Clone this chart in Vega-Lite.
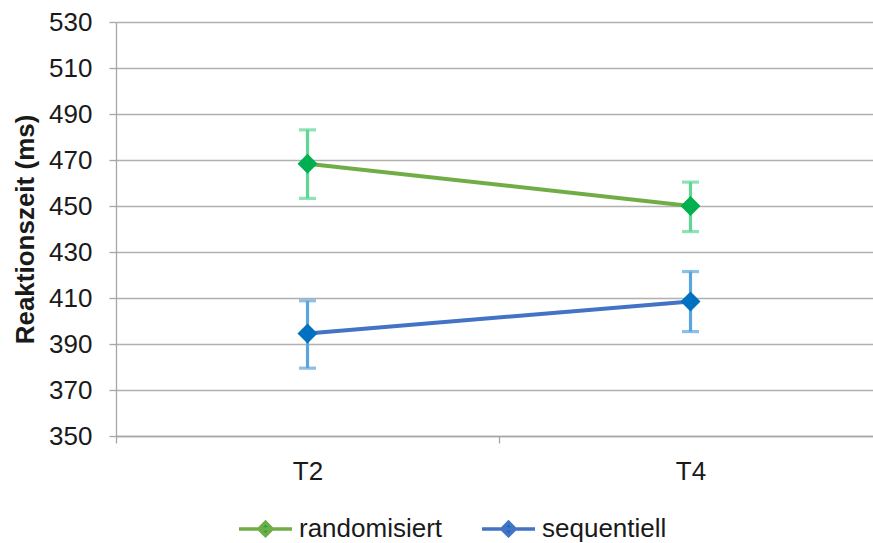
{
  "$schema": "https://vega.github.io/schema/vega-lite/v6.json",
  "autosize": {"type": "none"},
  "padding": {"left": 116, "top": 22, "right": 0, "bottom": 107},
  "width": 766,
  "height": 414,
  "background": "white",
  "config": {
    "view": {"stroke": null},
    "font": "Liberation Sans",
    "axis": {"labelFont": "Liberation Sans", "titleFont": "Liberation Sans", "labelColor": "#1a1a1a", "titleColor": "#1a1a1a"},
    "legend": {"labelFont": "Liberation Sans", "labelColor": "#1a1a1a"}
  },
  "data": {
    "values": [
      {"zeit": "T2", "bedingung": "randomisiert", "mittel": 468.4, "unten": 453.3, "oben": 483.1},
      {"zeit": "T4", "bedingung": "randomisiert", "mittel": 450.0, "unten": 438.9, "oben": 460.4},
      {"zeit": "T2", "bedingung": "sequentiell", "mittel": 394.6, "unten": 379.5, "oben": 408.8},
      {"zeit": "T4", "bedingung": "sequentiell", "mittel": 408.5, "unten": 395.4, "oben": 421.5}
    ]
  },
  "encoding": {
    "x": {
      "field": "zeit",
      "type": "nominal",
      "scale": {"type": "band", "paddingInner": 0, "paddingOuter": 0},
      "axis": {
        "title": null,
        "labelAngle": 0,
        "labelFontSize": 26,
        "labelPadding": 15,
        "tickBand": "extent",
        "tickSize": 7,
        "tickColor": "#A6A6A6",
        "tickWidth": 1.3,
        "domainColor": "#A6A6A6",
        "domainWidth": 1.3,
        "grid": false
      }
    }
  },
  "layer": [
    {
      "mark": {"type": "errorbar", "thickness": 3, "rule": {"strokeWidth": 3.2}, "ticks": {"size": 17, "thickness": 3.2}},
      "encoding": {
        "y": {
          "field": "unten",
          "type": "quantitative",
          "scale": {"domain": [350, 530], "nice": false, "zero": false},
          "axis": {
            "title": "Reaktionszeit (ms)",
            "titleFontSize": 26,
            "titleFontWeight": "bold",
            "titlePadding": 10,
            "values": [350, 370, 390, 410, 430, 450, 470, 490, 510, 530],
            "labelFontSize": 26,
            "labelPadding": 17,
            "tickSize": 7,
            "tickColor": "#A6A6A6",
            "tickWidth": 1.3,
            "domainColor": "#A6A6A6",
            "domainWidth": 1.3,
            "grid": true,
            "gridColor": "#B0B0B0",
            "gridWidth": 1.3
          }
        },
        "y2": {"field": "oben"},
        "color": {
          "field": "bedingung",
          "type": "nominal",
          "scale": {"domain": ["randomisiert", "sequentiell"], "range": ["#5FD596", "#5AA5DE"]},
          "legend": null
        }
      }
    },
    {
      "mark": {"type": "line", "strokeWidth": 4},
      "encoding": {
        "y": {"field": "mittel", "type": "quantitative"},
        "color": {
          "field": "bedingung",
          "type": "nominal",
          "scale": {"domain": ["randomisiert", "sequentiell"], "range": ["#70AD47", "#4472C4"]},
          "legend": {
            "title": null,
            "orient": "none",
            "direction": "horizontal",
            "legendX": 121,
            "legendY": 478,
            "padding": 0,
            "labelFontSize": 26,
            "labelOffset": 5,
            "columnPadding": 32,
            "symbolType": "M-1,0L1,0M0,-0.25L0.25,0L0,0.25L-0.25,0Z",
            "symbolSize": 2809,
            "symbolStrokeWidth": 3.5,
            "encode": {
              "symbols": {
                "update": {
                  "fill": {"signal": "datum.value == 'randomisiert' ? '#00B050' : '#0070C0'"},
                  "fillOpacity": {"value": 1}
                }
              }
            }
          }
        }
      }
    },
    {
      "mark": {"type": "point", "shape": "diamond", "filled": true, "size": 400, "opacity": 1},
      "encoding": {
        "y": {"field": "mittel", "type": "quantitative"},
        "color": {
          "field": "bedingung",
          "type": "nominal",
          "scale": {"domain": ["randomisiert", "sequentiell"], "range": ["#00B050", "#0070C0"]},
          "legend": null
        }
      }
    }
  ],
  "resolve": {"scale": {"color": "independent"}}
}
